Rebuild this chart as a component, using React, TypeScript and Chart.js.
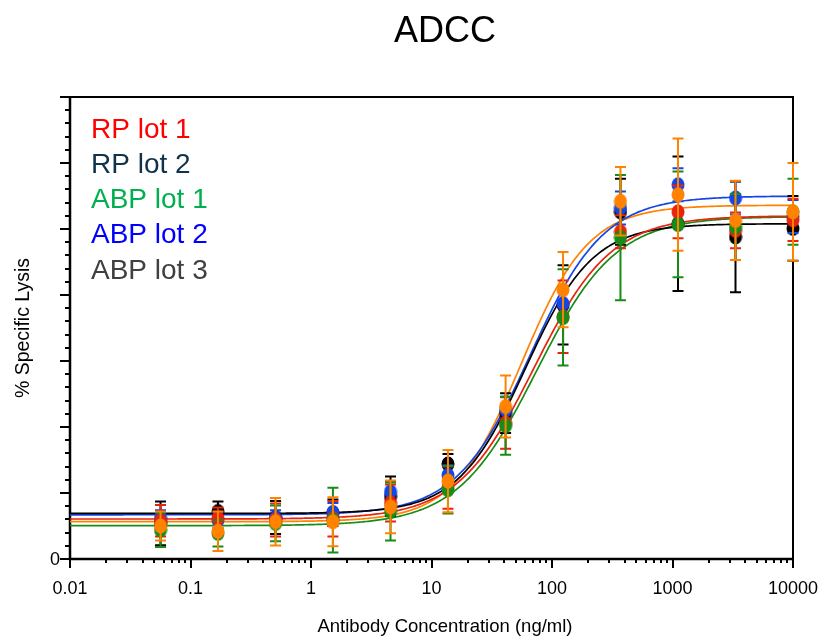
import React, { useEffect, useRef } from 'react';
import { Chart, registerables } from 'chart.js';

Chart.register(...registerables);

// ---------- data ----------
const concentrations = [0.0564, 0.169, 0.508, 1.52, 4.57, 13.7, 41.2, 123.5, 370, 1111, 3333, 10000];

const rpLot1 = [5.8, 6.2, 5.9, 6.1, 8.5, 10.8, 20.6, 36.7, 49.6, 52.6, 49.8, 51.4];
const rpLot1Err = [2.4, 1.6, 2.5, 2.7, 2.8, 3.2, 3.9, 5.5, 2.5, 4.0, 2.7, 3.2];

const rpLot2 = [5.4, 7.2, 6.3, 7.0, 9.5, 14.4, 22.1, 38.5, 52.6, 50.8, 48.8, 50.1];
const rpLot2Err = [3.3, 1.5, 2.5, 2.0, 3.0, 1.5, 3.0, 6.0, 5.0, 10.2, 8.4, 4.9];

const abpLot1 = [4.4, 3.9, 5.4, 5.9, 7.2, 10.5, 20.2, 36.6, 48.7, 50.7, 50.3, 52.6];
const abpLot1Err = [2.6, 2.0, 2.7, 4.9, 4.4, 3.6, 4.4, 7.3, 9.5, 8.0, 5.0, 5.0];

const abpLot2 = [6.2, 5.9, 6.2, 7.0, 10.2, 12.7, 22.6, 38.7, 53.2, 56.7, 54.7, 51.9];
const abpLot2Err = [1.2, 1.2, 1.2, 1.5, 1.5, 1.5, 2.0, 2.5, 2.5, 2.5, 2.5, 2.5];

const abpLot3 = [5.0, 4.2, 5.65, 5.65, 7.9, 11.8, 23.1, 40.8, 54.2, 55.2, 51.3, 52.6];
const abpLot3Err = [2.2, 3.0, 3.6, 3.7, 4.0, 4.7, 4.7, 5.7, 5.2, 8.5, 6.0, 7.4];

// four-parameter logistic fit parameters per series
const fitBottom = [6.06, 6.9, 5.05, 6.7, 5.65];
const fitTop = [52.0, 50.8, 51.9, 55.0, 53.6];
const fitEC50 = [71.3, 60.1, 74.4, 65.8, 55.7];
const fitHill = [1.36, 1.55, 1.32, 1.42, 1.55];

const seriesNames = ['RP lot 1', 'RP lot 2', 'ABP lot 1', 'ABP lot 2', 'ABP lot 3'];
const legendColors = ['#ff0000', '#10324a', '#00b050', '#0000ff', '#404040'];
const markerColors = ['#e8230e', '#000000', '#178c17', '#1446e6', '#ff8200'];
const drawOrder = [3, 5, 2, 4, 1]; // lower = on top

const xTickLabels = ['0.01', '0.1', '1', '10', '100', '1000', '10000'];
const yMajorTicks = [0, 10, 20, 30, 40, 50, 60, 70];
const yTickLabels = ['0'];

const seriesValues = [rpLot1, rpLot2, abpLot1, abpLot2, abpLot3];
const seriesErrors = [rpLot1Err, rpLot2Err, abpLot1Err, abpLot2Err, abpLot3Err];

const FONT = "'Liberation Sans', Arial, Helvetica, sans-serif";

function fitCurve(i: number) {
  const pts: { x: number; y: number }[] = [];
  const n = 400;
  for (let k = 0; k <= n; k++) {
    const x = Math.pow(10, -2 + (6 * k) / n);
    const y = fitBottom[i] + (fitTop[i] - fitBottom[i]) / (1 + Math.pow(fitEC50[i] / x, fitHill[i]));
    pts.push({ x, y });
  }
  return pts;
}

function ellipseMarker(color: string) {
  const c = document.createElement('canvas');
  c.width = 14;
  c.height = 16;
  const g = c.getContext('2d')!;
  g.fillStyle = color;
  g.beginPath();
  g.ellipse(7, 8, 6.5, 7.6, 0, 0, Math.PI * 2);
  g.fill();
  return c;
}

const errorBarPlugin = {
  id: 'errorBars',
  beforeDatasetDraw(chart: any, args: any) {
    const ds = chart.data.datasets[args.index];
    if (!ds.errors) return;
    const { ctx } = chart;
    const xs = chart.scales.x;
    const ys = chart.scales.y;
    ctx.save();
    ctx.strokeStyle = ds.barColor;
    ctx.lineWidth = 2;
    ds.data.forEach((p: any, j: number) => {
      const e = ds.errors[j];
      const px = xs.getPixelForValue(p.x);
      const t = ys.getPixelForValue(p.y + e);
      const b = ys.getPixelForValue(p.y - e);
      ctx.beginPath();
      ctx.moveTo(px, t);
      ctx.lineTo(px, b);
      ctx.moveTo(px - 5.5, t);
      ctx.lineTo(px + 5.5, t);
      ctx.moveTo(px - 5.5, b);
      ctx.lineTo(px + 5.5, b);
      ctx.stroke();
    });
    ctx.restore();
  },
};

const axesPlugin = {
  id: 'axesDecor',
  beforeDatasetsDraw(chart: any) {
    const { ctx, chartArea: a } = chart;
    const xs = chart.scales.x;
    const ys = chart.scales.y;
    ctx.save();
    ctx.strokeStyle = '#000';
    ctx.lineWidth = 2;
    // frame top & right
    ctx.beginPath();
    ctx.moveTo(a.left, a.top);
    ctx.lineTo(a.right, a.top);
    ctx.lineTo(a.right, a.bottom);
    ctx.stroke();
    // axes
    ctx.lineWidth = 2.5;
    ctx.beginPath();
    ctx.moveTo(a.left, a.top - 1);
    ctx.lineTo(a.left, a.bottom);
    ctx.lineTo(a.right + 1, a.bottom);
    ctx.stroke();
    // x ticks
    ctx.lineWidth = 2;
    ctx.beginPath();
    const majors = xTickLabels.map((s) => parseFloat(s));
    majors.forEach((v, i) => {
      const px = Math.round(xs.getPixelForValue(v));
      ctx.moveTo(px, a.bottom);
      ctx.lineTo(px, a.bottom + 9);
      if (i < majors.length - 1) {
        for (let k = 2; k <= 9; k++) {
          const mx = Math.round(xs.getPixelForValue(v * k));
          ctx.moveTo(mx, a.bottom);
          ctx.lineTo(mx, a.bottom + 4);
        }
      }
    });
    // y ticks
    yMajorTicks.forEach((v, i) => {
      const py = Math.round(ys.getPixelForValue(v));
      ctx.moveTo(a.left - 10, py);
      ctx.lineTo(a.left, py);
      if (i < yMajorTicks.length - 1) {
        const step = (yMajorTicks[i + 1] - v) / 5;
        for (let k = 1; k < 5; k++) {
          const my = Math.round(ys.getPixelForValue(v + step * k));
          ctx.moveTo(a.left - 5, my);
          ctx.lineTo(a.left, my);
        }
      }
    });
    ctx.stroke();

    // tick labels
    ctx.fillStyle = '#000';
    ctx.font = `18px ${FONT}`;
    ctx.textAlign = 'center';
    ctx.textBaseline = 'alphabetic';
    xTickLabels.forEach((s) => {
      ctx.fillText(s, xs.getPixelForValue(parseFloat(s)), 594);
    });
    ctx.textAlign = 'right';
    ctx.textBaseline = 'middle';
    yTickLabels.forEach((s) => {
      ctx.fillText(s, a.left - 10, ys.getPixelForValue(parseFloat(s)) + 1);
    });
    ctx.restore();
  },
  afterDraw(chart: any) {
    const { ctx } = chart;
    ctx.save();
    ctx.fillStyle = '#000';
    // title
    ctx.font = `36px ${FONT}`;
    ctx.textAlign = 'center';
    ctx.textBaseline = 'alphabetic';
    ctx.fillText('ADCC', 445, 42);
    // x title
    ctx.font = `18.5px ${FONT}`;
    ctx.fillText('Antibody Concentration (ng/ml)', 445, 632);
    // y title
    ctx.save();
    ctx.translate(29, 328);
    ctx.rotate(-Math.PI / 2);
    ctx.textAlign = 'center';
    ctx.font = `19.5px ${FONT}`;
    ctx.fillText('% Specific Lysis', 0, 0);
    ctx.restore();
    // legend text
    ctx.font = `28px ${FONT}`;
    ctx.textAlign = 'left';
    seriesNames.forEach((n, i) => {
      ctx.fillStyle = legendColors[i];
      ctx.fillText(n, 91, 137.5 + i * 35.3);
    });
    ctx.restore();
  },
};

export default function App() {
  const ref = useRef<HTMLCanvasElement | null>(null);

  useEffect(() => {
    document.body.style.margin = '0';
    const canvas = ref.current;
    if (!canvas) return;

    const datasets: any[] = [];
    seriesNames.forEach((name, i) => {
      datasets.push({
        label: name + ' fit',
        type: 'line',
        data: fitCurve(i),
        showLine: true,
        borderColor: markerColors[i],
        borderWidth: 1.7,
        pointRadius: 0,
        fill: false,
        tension: 0,
        order: 20 + i,
      });
    });
    seriesNames.forEach((name, i) => {
      const marker = ellipseMarker(markerColors[i]);
      datasets.push({
        label: name,
        type: 'scatter',
        data: concentrations.map((x, j) => ({ x, y: seriesValues[i][j] })),
        errors: seriesErrors[i],
        barColor: markerColors[i],
        backgroundColor: markerColors[i],
        borderColor: markerColors[i],
        borderWidth: 0,
        pointRadius: 7,
        pointStyle: marker,
        showLine: false,
        clip: false,
        order: drawOrder[i],
      });
    });

    const chart = new Chart(canvas, {
      type: 'scatter',
      data: { datasets },
      options: {
        responsive: false,
        animation: false,
        events: [],
        devicePixelRatio: 1,
        layout: { padding: { left: 70, right: 28, top: 97, bottom: 79 } },
        plugins: { legend: { display: false }, title: { display: false }, tooltip: { enabled: false } },
        scales: {
          x: { type: 'logarithmic', min: 0.01, max: 10000, display: false },
          y: { type: 'linear', min: 0, max: 70, display: false },
        },
      },
      plugins: [axesPlugin, errorBarPlugin],
    } as any);

    return () => chart.destroy();
  }, []);

  return (
    <div style={{ width: 821, height: 638, background: '#fff' }}>
      <canvas ref={ref} width={821} height={638} style={{ display: 'block', width: 821, height: 638 }} />
    </div>
  );
}
